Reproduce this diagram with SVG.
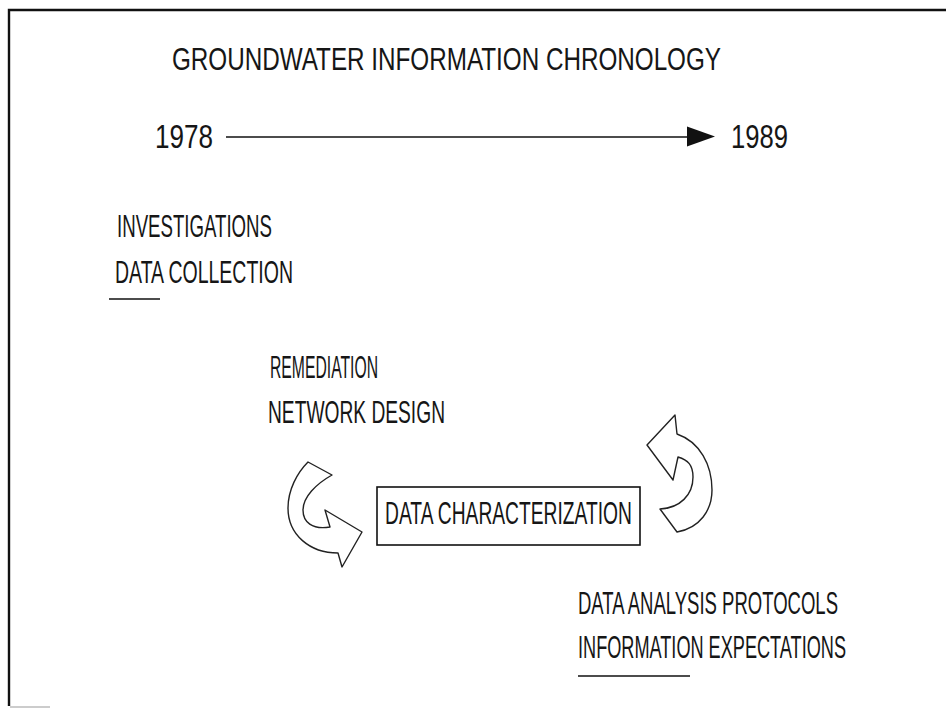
<svg xmlns="http://www.w3.org/2000/svg" width="946" height="709" viewBox="0 0 946 709">
<style>
  .t { font-family: "Liberation Sans", Arial, sans-serif; font-size: 31px; fill: #161616; }
  .y { font-size: 33px; }
  .ln { stroke: #111; stroke-width: 1.6; fill: none; }
  .frame { stroke: #111; stroke-width: 2.4; fill: none; }
  .curl { stroke: #222; stroke-width: 1.4; fill: #fff; stroke-linejoin: round; }
</style>
<rect width="946" height="709" fill="#fff"/>
<g id="frame">
  <path class="frame" d="M946,10 L9,10 L9,706"/>
  <path d="M10,707 L50,707" stroke="#bbb" stroke-width="1.5"/>
</g>
<g id="title">
  <text class="t" transform="scale(0.6 1)" x="286.67" y="70" textLength="915" lengthAdjust="spacingAndGlyphs">GROUNDWATER INFORMATION CHRONOLOGY</text>
</g>
<g id="start-year">
  <text class="t y" transform="scale(0.6 1)" x="258.33" y="148" textLength="96.67" lengthAdjust="spacingAndGlyphs">1978</text>
</g>
<g id="end-year">
  <text class="t y" transform="scale(0.6 1)" x="1218.33" y="148" textLength="95" lengthAdjust="spacingAndGlyphs">1989</text>
</g>
<g id="connectors">
  <line class="ln" x1="226" y1="137" x2="690" y2="137"/>
  <polygon points="687,126.5 715,136.5 687,146.5" fill="#111"/>
</g>
<g id="investigations">
  <text class="t" transform="scale(0.6 1)" x="195" y="237" textLength="258.33" lengthAdjust="spacingAndGlyphs">INVESTIGATIONS</text>
  <text class="t" transform="scale(0.6 1)" x="191.67" y="283" textLength="296.67" lengthAdjust="spacingAndGlyphs">DATA COLLECTION</text>
  <line class="ln" x1="109" y1="299" x2="160" y2="299"/>
</g>
<g id="remediation">
  <text class="t" transform="scale(0.6 1)" x="450" y="378" textLength="180" lengthAdjust="spacingAndGlyphs">REMEDIATION</text>
  <text class="t" transform="scale(0.6 1)" x="446.67" y="423" textLength="295" lengthAdjust="spacingAndGlyphs">NETWORK DESIGN</text>
</g>
<g id="left-curl">
  <path class="curl" d="M308,462 L332,475 C316,484 303,497 303,510 C303,522 312,530 330,527 L325,510 L362,532 L342,567 L338,553 C310,553 288,535 288,508 C288,490 297,473 308,462 Z"/>
</g>
<g id="data-characterization">
  <rect x="377" y="487" width="263" height="58" class="ln"/>
  <text class="t" transform="scale(0.6 1)" x="641.67" y="524" textLength="411.67" lengthAdjust="spacingAndGlyphs">DATA CHARACTERIZATION</text>
</g>
<g id="right-curl">
  <path class="curl" d="M675,415 L677,434 C700,442 712,465 712,490 C712,510 700,528 677,532 L660,509 C680,508 693,495 693,477 C693,465 688,460 678,457 L673,480 L647,445 Z"/>
</g>
<g id="analysis">
  <text class="t" transform="scale(0.6 1)" x="963.33" y="614" textLength="433.33" lengthAdjust="spacingAndGlyphs">DATA ANALYSIS PROTOCOLS</text>
  <text class="t" transform="scale(0.6 1)" x="963.33" y="658" textLength="446.67" lengthAdjust="spacingAndGlyphs">INFORMATION EXPECTATIONS</text>
  <line class="ln" x1="578" y1="676" x2="690" y2="676"/>
</g>
</svg>
